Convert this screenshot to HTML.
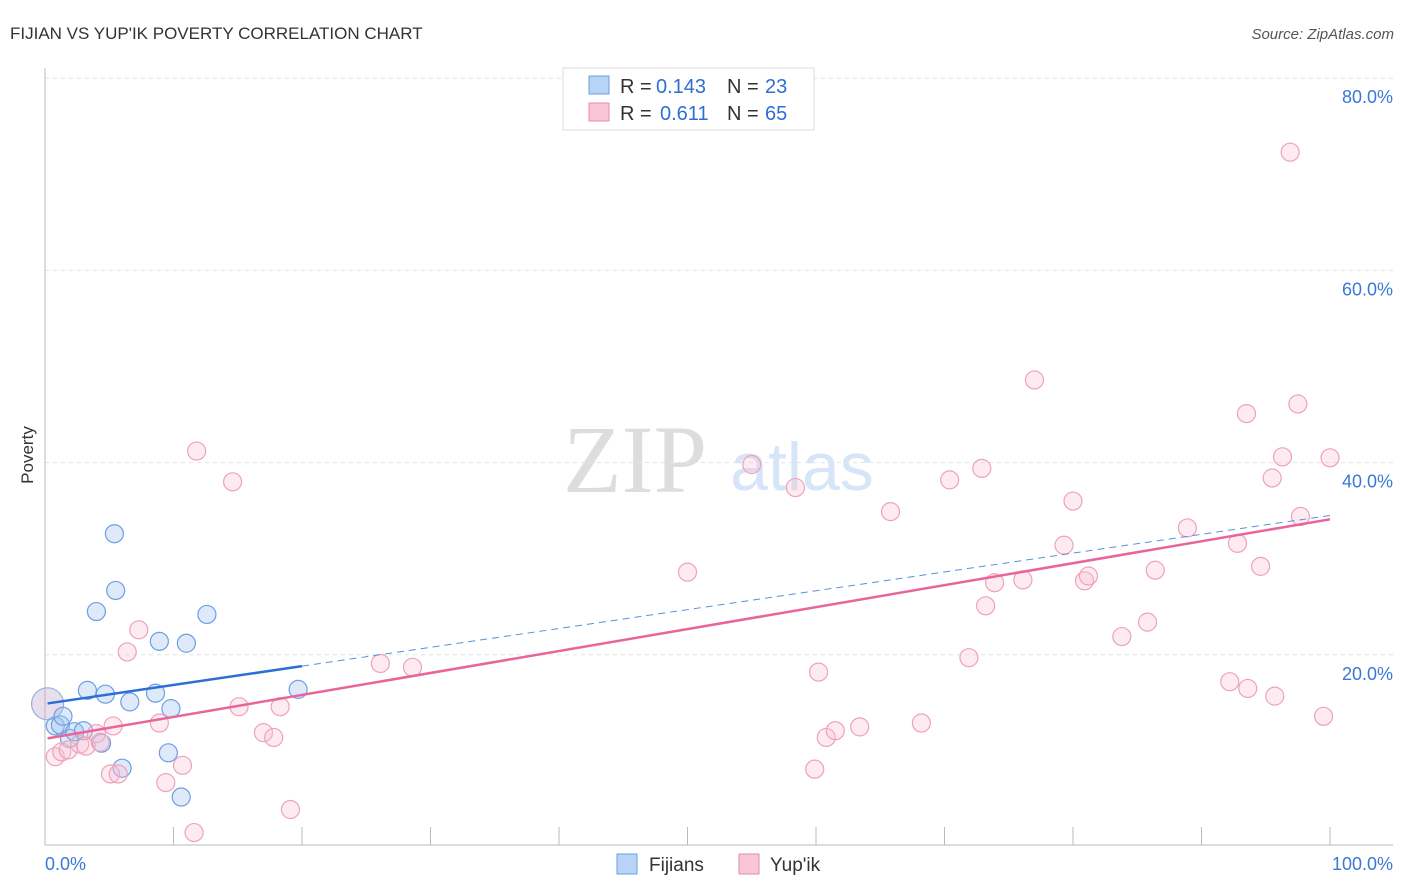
<!DOCTYPE html>
<html><head><meta charset="utf-8"><style>
body{margin:0;background:#fff;font-family:"Liberation Sans",sans-serif}
</style></head><body>
<svg id="c" width="1406" height="892" style="display:block">
<text x="10" y="39" font-size="17" fill="#333">FIJIAN VS YUP'IK POVERTY CORRELATION CHART</text>
<text x="1394" y="39" font-size="15" fill="#555" font-style="italic" text-anchor="end">Source: ZipAtlas.com</text>
<text x="635" y="492" font-size="96" fill="#ddd" font-family="Liberation Serif,serif" text-anchor="middle">ZIP</text>
<text x="802" y="490" font-size="68" fill="#d6e5f7" text-anchor="middle">atlas</text>
<text transform="translate(33,455) rotate(-90)" font-size="17" fill="#333" text-anchor="middle">Poverty</text>
<g id="grid"></g><g id="ticks"></g><g id="pts"></g><g id="lines"></g>
<g>
<rect x="563" y="68" width="251" height="62" fill="#fff" stroke="#ddd"/>
<rect x="589" y="76" width="20" height="18" fill="#b7d3f5" stroke="#6a9fe0"/>
<rect x="589" y="103" width="20" height="18" fill="#f9c6d6" stroke="#e88aa8"/>
<text x="620" y="93" font-size="20" fill="#333">R =</text>
<text x="656" y="93" font-size="20" fill="#2d6fd3">0.143</text>
<text x="727" y="93" font-size="20" fill="#333">N =</text>
<text x="765" y="93" font-size="20" fill="#2d6fd3">23</text>
<text x="620" y="120" font-size="20" fill="#333">R =</text>
<text x="660" y="120" font-size="20" fill="#2d6fd3">0.611</text>
<text x="727" y="120" font-size="20" fill="#333">N =</text>
<text x="765" y="120" font-size="20" fill="#2d6fd3">65</text>
</g>
<g>
<rect x="617" y="854" width="20" height="20" fill="#b7d3f5" stroke="#6a9fe0"/>
<text x="649" y="871" font-size="19" fill="#333">Fijians</text>
<rect x="739" y="854" width="20" height="20" fill="#f9c6d6" stroke="#e88aa8"/>
<text x="770" y="871" font-size="19" fill="#333">Yup'ik</text>
</g>
<text x="45" y="870" font-size="18" fill="#3a78d8">0.0%</text>
<text x="1393" y="870" font-size="18" fill="#3a78d8" text-anchor="end">100.0%</text>
</svg>
<script>
const yTicks=[20,40,60,80];
const fijX=[0.8,1.2,1.4,1.9,2.3,3.0,3.3,4.0,4.4,4.7,5.4,5.5,6.0,6.6,8.6,8.9,9.6,9.8,10.6,11.0,12.6,19.7];
const fijY=[12.6,12.7,13.6,11.3,12.0,12.1,16.3,24.5,10.8,15.9,32.6,26.7,8.2,15.1,16.0,21.4,9.8,14.4,5.2,21.2,24.2,16.4];
const yupX=[0.8,1.3,1.8,2.7,3.2,4.0,4.3,5.1,5.3,5.7,6.4,7.3,8.9,9.4,10.7,11.6,11.8,14.6,15.1,17.0,17.8,18.3,19.1,26.1,28.6,50.0,55.0,58.4,59.9,60.2,60.8,61.5,63.4,65.8,68.2,70.4,71.9,72.9,73.2,73.9,76.1,77.0,79.3,80.0,80.9,81.2,83.8,85.8,86.4,88.9,92.2,92.8,93.5,93.6,94.6,95.5,95.7,96.3,96.9,97.5,97.7,99.5,100];
const yupY=[9.4,9.9,10.1,10.7,10.5,11.8,10.9,7.6,12.6,7.6,20.3,22.6,12.9,6.7,8.5,1.5,41.2,38.0,14.6,11.9,11.4,14.6,3.9,19.1,18.7,28.6,39.8,37.4,8.1,18.2,11.4,12.1,12.5,34.9,12.9,38.2,19.7,39.4,25.1,27.5,27.8,48.6,31.4,36.0,27.7,28.2,21.9,23.4,28.8,33.2,17.2,31.6,45.1,16.5,29.2,38.4,15.7,40.6,72.3,46.1,34.4,13.6,40.5];
const fijTrend=[14.9,34.5];
const yupTrend=[11.3,34.1];
const NS="http://www.w3.org/2000/svg";
const X=v=>45+v*12.85, Y=v=>847-v*9.61;
function mk(t,a,p){const e=document.createElementNS(NS,t);for(const k in a)e.setAttribute(k,a[k]);document.getElementById(p).appendChild(e);return e;}
yTicks.forEach(t=>{
 const l=mk('line',{x1:45,x2:1393,y1:Y(t),y2:Y(t),stroke:'#e2e2e2','stroke-dasharray':'4,4'},'grid');
 
 
 const tx=mk('text',{x:1393,y:Y(t)+25,'font-size':18,fill:'#3a78d8','text-anchor':'end'},'grid');
 tx.textContent=t.toFixed(1)+'%';
 
 
});
const ax=mk('path',{d:'M45,68V845H1393',fill:'none',stroke:'#bbb'},'ticks');


for(let i=0;i<=10;i++){
 const t=mk('line',{x1:X(i*10),x2:X(i*10),y1:827,y2:845,stroke:'#bbb'},'ticks');
 
 
}
function dot(x,y,r,f,s){const c=mk('circle',{cx:X(x),cy:Y(y),r:r,fill:f,stroke:s,'stroke-width':1.2},'pts');return c;}
const b=dot(0.2,14.9,16,'rgba(190,160,200,0.35)','#8fb0e6');


fijX.forEach((x,i)=>{const c=dot(x,fijY[i],9,'rgba(160,195,240,0.35)','#6d9fe2');
 
 });
yupX.forEach((x,i)=>{const c=dot(x,yupY[i],9,'rgba(248,190,208,0.3)','#eea2ba');
 
 });
const fy=x=>fijTrend[0]+(fijTrend[1]-fijTrend[0])*x/100;
const l1=mk('line',{x1:X(0.2),y1:Y(fy(0.2)),x2:X(20),y2:Y(fy(20)),stroke:'#2b6fd6','stroke-width':2.5},'lines');


const l2=mk('line',{x1:X(20),y1:Y(fy(20)),x2:X(100),y2:Y(fy(100)),stroke:'#5a8fdc','stroke-width':1,'stroke-dasharray':'7,5'},'lines');


const l3=mk('line',{x1:X(0.2),y1:Y(yupTrend[0]),x2:X(100),y2:Y(yupTrend[1]),stroke:'#e8649a','stroke-width':2.5},'lines');


</script>
</body></html>
